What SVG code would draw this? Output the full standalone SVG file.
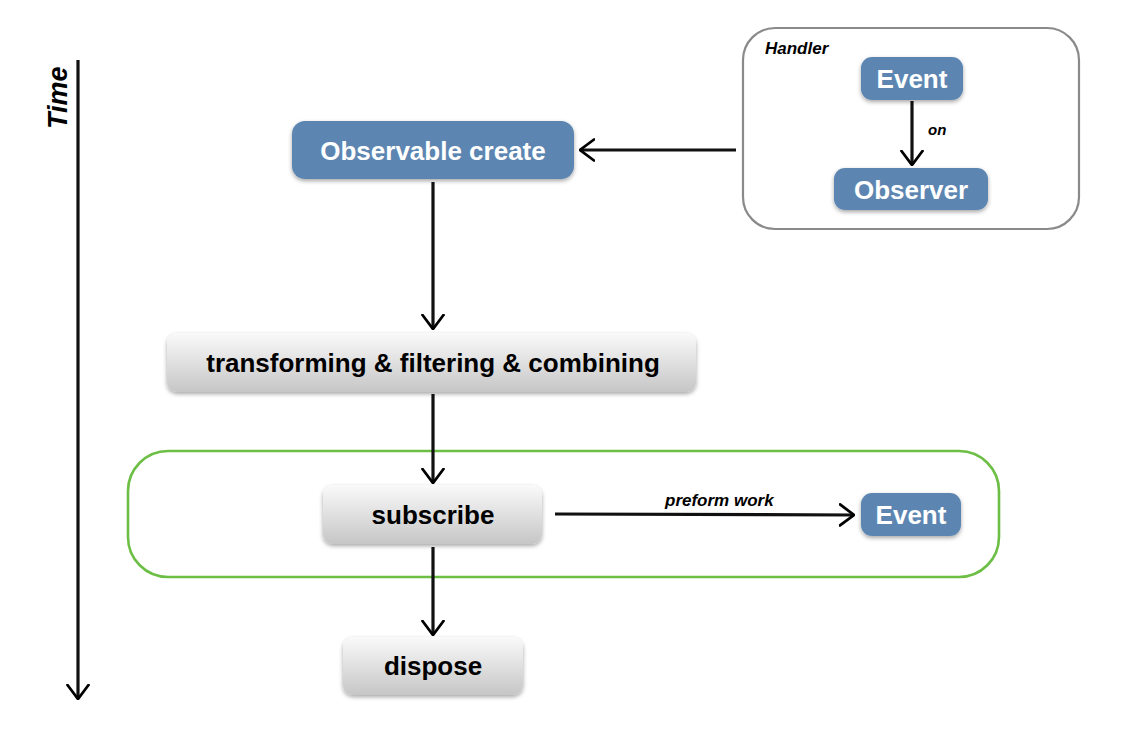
<svg xmlns="http://www.w3.org/2000/svg" width="1140" height="738" viewBox="0 0 1140 738">
<defs>
<linearGradient id="gray" x1="0" y1="0" x2="0" y2="1">
<stop offset="0" stop-color="#fafafa"/>
<stop offset="1" stop-color="#c6c6c6"/>
</linearGradient>
<filter id="shadow" x="-10%" y="-20%" width="120%" height="150%">
<feDropShadow dx="0" dy="2" stdDeviation="2" flood-color="#000" flood-opacity="0.35"/>
</filter>
<marker id="arrow" viewBox="0 0 16 24" refX="15" refY="12" markerWidth="16" markerHeight="24" markerUnits="userSpaceOnUse" orient="auto">
<path d="M1,1.5 L15,12 L1,22.5" fill="none" stroke="#000" stroke-width="2.8" stroke-linecap="round" stroke-linejoin="miter"/>
</marker>
<style>
.blue{fill:#5b86b1;filter:url(#shadow)}
.gray{fill:url(#gray);filter:url(#shadow)}
.wt{font-family:"Liberation Sans",Arial,sans-serif;font-weight:bold;fill:#fff;text-anchor:middle;dominant-baseline:central}
.bt{font-family:"Liberation Sans",Arial,sans-serif;font-weight:bold;fill:#000;text-anchor:middle;dominant-baseline:central}
.it{font-family:"Liberation Sans",Arial,sans-serif;font-weight:bold;font-style:italic;fill:#000}
.conn{fill:none;stroke:#111;stroke-width:3.2;marker-end:url(#arrow)}
</style>
</defs>
<rect width="1140" height="738" fill="#fff"/>

<g id="handler">
<rect x="743" y="28" width="336" height="201" rx="32" fill="none" stroke="#8a8a8a" stroke-width="2.2"/>
<text class="it" x="765" y="54" font-size="17">Handler</text>
</g>

<g id="subscribe-group">
<rect x="128" y="451" width="871" height="126" rx="40" fill="none" stroke="#6cbe45" stroke-width="2.6"/>
</g>

<g id="connectors">
<line class="conn" x1="78" y1="60" x2="78" y2="699"/>
<line class="conn" x1="736" y1="150" x2="580" y2="150"/>
<line class="conn" x1="912" y1="101" x2="912" y2="165"/>
<line class="conn" x1="433" y1="182" x2="433" y2="329"/>
<line class="conn" x1="433" y1="394" x2="433" y2="483"/>
<line class="conn" x1="555" y1="514" x2="854" y2="515"/>
<line class="conn" x1="433" y1="547" x2="433" y2="635"/>
<text class="it" x="928" y="135" font-size="15">on</text>
<text class="it" x="665" y="506" font-size="17">preform work</text>
<text class="it" x="0" y="0" font-size="27" transform="translate(67,129) rotate(-90)">Time</text>
</g>

<g id="observable-create">
<rect class="blue" x="292" y="121" width="282" height="58" rx="13"/>
<text class="wt" x="433" y="151" font-size="26">Observable create</text>
</g>

<g id="event-top">
<rect class="blue" x="861" y="57" width="102" height="43" rx="11"/>
<text class="wt" x="912" y="79" font-size="26">Event</text>
</g>

<g id="observer">
<rect class="blue" x="834" y="168" width="154" height="42" rx="11"/>
<text class="wt" x="911" y="190" font-size="26">Observer</text>
</g>

<g id="transforming">
<rect class="gray" x="167" y="333" width="529" height="59" rx="10"/>
<text class="bt" x="433" y="363" font-size="26">transforming &amp; filtering &amp; combining</text>
</g>

<g id="subscribe">
<rect class="gray" x="323" y="485" width="219" height="59" rx="10"/>
<text class="bt" x="433" y="515" font-size="26">subscribe</text>
</g>

<g id="event-bottom">
<rect class="blue" x="861" y="493" width="100" height="43" rx="11"/>
<text class="wt" x="911" y="515" font-size="26">Event</text>
</g>

<g id="dispose">
<rect class="gray" x="343" y="637" width="180" height="58" rx="10"/>
<text class="bt" x="433" y="666" font-size="26">dispose</text>
</g>
</svg>
